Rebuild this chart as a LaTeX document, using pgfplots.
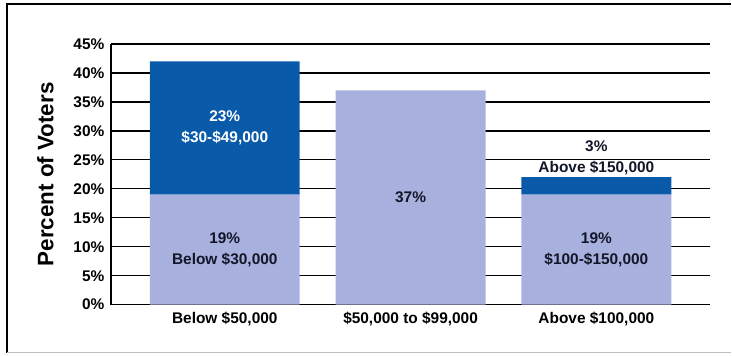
\documentclass[border=0pt]{standalone}
\usepackage{pgfplots}
\pgfplotsset{compat=1.18}
\usepackage{fontspec}
\setmainfont{Liberation Sans}

\definecolor{lightbar}{RGB}{168,176,222}
\definecolor{darkbar}{RGB}{10,90,170}
\definecolor{labeltxt}{RGB}{18,22,40}

\newcommand{\lbl}{\bfseries\fontsize{15.5}{21}\selectfont}

\begin{document}
\begin{tikzpicture}
\begin{axis}[
  scale only axis,
  width=600bp, height=261bp,
  ybar stacked,
  bar width=150bp,
  xmin=-0.613, xmax=2.613,
  ymin=0, ymax=45,
  xtick={0,1,2},
  xticklabels={{Below \$50,000}, {\$50,000 to \$99,000}, {Above \$100,000}},
  ytick={0,5,...,45},
  yticklabels={0\%,5\%,10\%,15\%,20\%,25\%,30\%,35\%,40\%,45\%},
  major tick length=0pt,
  axis x line=bottom, axis y line=left,
  axis line style={-, black, line width=1.3bp},
  ymajorgrids,
  grid style={black, line width=1.3bp},
  tick label style={font=\lbl, text=black},
  yticklabel style={xshift=-3bp},
  xticklabel style={yshift=-4bp},
  ylabel={Percent of Voters},
  ylabel style={font=\bfseries\fontsize{22.5}{26}\selectfont, yshift=13bp},
  clip=false,
]
\addplot[fill=lightbar, draw=none] coordinates {(0,19) (1,37) (2,19)};
\addplot[fill=darkbar, draw=none] coordinates {(0,23) (1,0) (2,3)};

\coordinate (a) at (axis cs:0,30.5);
\coordinate (b) at (axis cs:0,9.5);
\coordinate (c) at (axis cs:1,18.5);
\coordinate (d) at (axis cs:2,25.3);
\coordinate (e) at (axis cs:2,9.5);
\end{axis}
\node[white, font=\lbl, align=center] at (a) {23\%\\\$30-\$49,000};
\node[labeltxt, font=\lbl, align=center] at (b) {19\%\\Below \$30,000};
\node[labeltxt, font=\lbl, align=center] at (c) {37\%};
\node[labeltxt, font=\lbl, align=center] at (d) {3\%\\Above \$150,000};
\node[labeltxt, font=\lbl, align=center] at (e) {19\%\\\$100-\$150,000};
\draw[black, line width=1.5bp] (-104bp,-48bp) -- (-104bp,301bp) -- (621bp,301bp);
\draw[black!25, line width=1.5bp] (-104bp,-48bp) -- (621bp,-48bp);
\useasboundingbox (-111bp,-51bp) rectangle (621bp,305bp);
\end{tikzpicture}
\end{document}
